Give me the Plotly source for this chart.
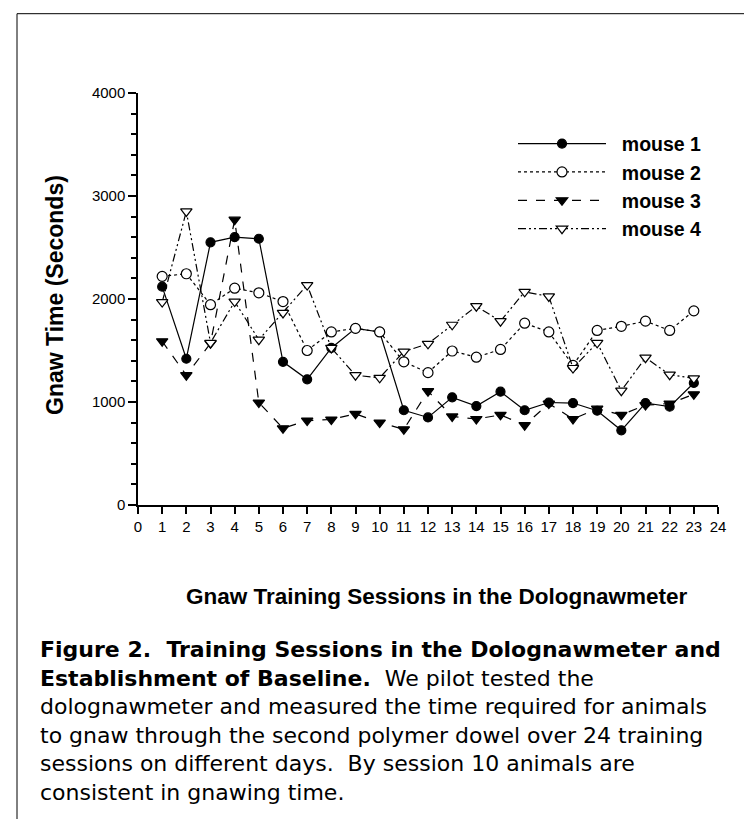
import plotly.graph_objects as go

sessions = list(range(1, 24))
mouse1 = [2120, 1420, 2550, 2600, 2585, 1390, 1220, 1525, 1715, 1680, 920, 850,
          1045, 960, 1100, 920, 995, 990, 915, 725, 990, 955, 1185]
mouse2 = [2220, 2245, 1945, 2105, 2060, 1975, 1500, 1680, 1715, 1680, 1390, 1285,
          1495, 1435, 1510, 1765, 1680, 1355, 1695, 1735, 1785, 1695, 1885]
mouse3 = [1590, 1260, 1570, 2770, 995, 745, 820, 830, 885, 800, 735, 1105,
          860, 835, 875, 775, 985, 835, 935, 875, 970, 985, 1075]
mouse4 = [1970, 2850, 1575, 1975, 1605, 1865, 2135, 1525, 1260, 1235, 1490, 1565,
          1750, 1930, 1785, 2070, 2025, 1330, 1575, 1110, 1430, 1265, 1230]

series_names = ["mouse 1", "mouse 2", "mouse 3", "mouse 4"]
x_title = "Gnaw Training Sessions in the Dolognawmeter"
y_title = "Gnaw Time (Seconds)"
caption_lines = [
    "<b>Figure 2.  Training Sessions in the Dolognawmeter and</b>",
    "<b>Establishment of Baseline.</b>  We pilot tested the",
    "dolognawmeter and measured the time required for animals",
    "to gnaw through the second polymer dowel over 24 training",
    "sessions on different days.  By session 10 animals are",
    "consistent in gnawing time.",
]

W, H = 752, 819
L, R, T, B = 130, 710, 84.5, 497.5  # plot area in pixels
FONT = "Arial, Liberation Sans, sans-serif"
CAP_FONT = "DejaVu Sans, sans-serif"

def px(xp):
    return (xp - L) / (R - L)

def py(yp):
    return (B - yp) / (B - T)

fig = go.Figure()
styles = [
    dict(dash="solid", symbol="circle", fill="black", size=9),
    dict(dash="dot", symbol="circle", fill="white", size=10),
    dict(dash="dash", symbol="triangle-down", fill="black", size=10),
    dict(dash="8px,3px,2px,3px,2px,3px", symbol="triangle-down", fill="white", size=10),
]
for name, vals, st in zip(series_names, [mouse1, mouse2, mouse3, mouse4], styles):
    fig.add_trace(go.Scatter(
        x=sessions, y=vals, name="\u00a0\u00a0" + name, mode="lines+markers",
        line=dict(color="black", width=1.2, dash=st["dash"]),
        marker=dict(symbol=st["symbol"], size=st["size"], color=st["fill"],
                    line=dict(color="black", width=1.2)),
    ))

fig.update_layout(
    width=W, height=H, autosize=False,
    margin=dict(l=L, r=W - R, t=T, b=H - B, pad=0),
    paper_bgcolor="white", plot_bgcolor="white",
    font=dict(family=FONT, color="black"),
    showlegend=True,
    legend=dict(x=px(505), y=py(116), xanchor="left", yanchor="top",
                bgcolor="rgba(0,0,0,0)", itemwidth=88,
                font=dict(size=19.5, family=FONT, weight="bold"),
                tracegroupgap=0),
    xaxis=dict(range=[0, 24], tickmode="linear", tick0=0, dtick=1,
               showgrid=False, zeroline=False, showline=True, linecolor="black",
               linewidth=1.5, ticks="outside", ticklen=7, tickwidth=2,
               tickcolor="black", tickfont=dict(size=15)),
    yaxis=dict(range=[0, 4000], tickmode="linear", tick0=0, dtick=1000,
               showgrid=False, zeroline=False, showline=True, linecolor="black",
               linewidth=1.5, ticks="outside", ticklen=8, tickwidth=2,
               tickcolor="black", tickfont=dict(size=15),
               minor=dict(dtick=200, ticks="outside", ticklen=5, tickwidth=2,
                          tickcolor="black")),
)

# axis titles
fig.add_annotation(text="<b>" + x_title + "</b>", xref="paper", yref="paper",
                   x=px(429), y=py(589), xanchor="center", yanchor="middle",
                   showarrow=False, font=dict(size=22.5, family=FONT, color="black"))
fig.add_annotation(text="<b>" + y_title + "</b>", xref="paper", yref="paper",
                   x=px(47), y=py(287), xanchor="center", yanchor="middle",
                   textangle=-90, showarrow=False,
                   font=dict(size=23, family=FONT, color="black"))

# outer frame
fig.add_shape(type="line", xref="paper", yref="paper",
              x0=px(9), y0=py(5), x1=px(9), y1=py(819), line=dict(color="black", width=1))
fig.add_shape(type="line", xref="paper", yref="paper",
              x0=px(9), y0=py(5), x1=px(748), y1=py(5), line=dict(color="black", width=1))
fig.add_shape(type="line", xref="paper", yref="paper",
              x0=px(748), y0=py(5), x1=px(748), y1=py(600), line=dict(color="black", width=1))

# caption (one multi-line block)
fig.add_annotation(text="<br>".join(caption_lines), xref="paper", yref="paper",
                   x=px(30), y=py(714), xanchor="left", yanchor="middle",
                   align="left", showarrow=False,
                   font=dict(size=22, family=CAP_FONT, color="black"))

fig.write_html("out.html")
